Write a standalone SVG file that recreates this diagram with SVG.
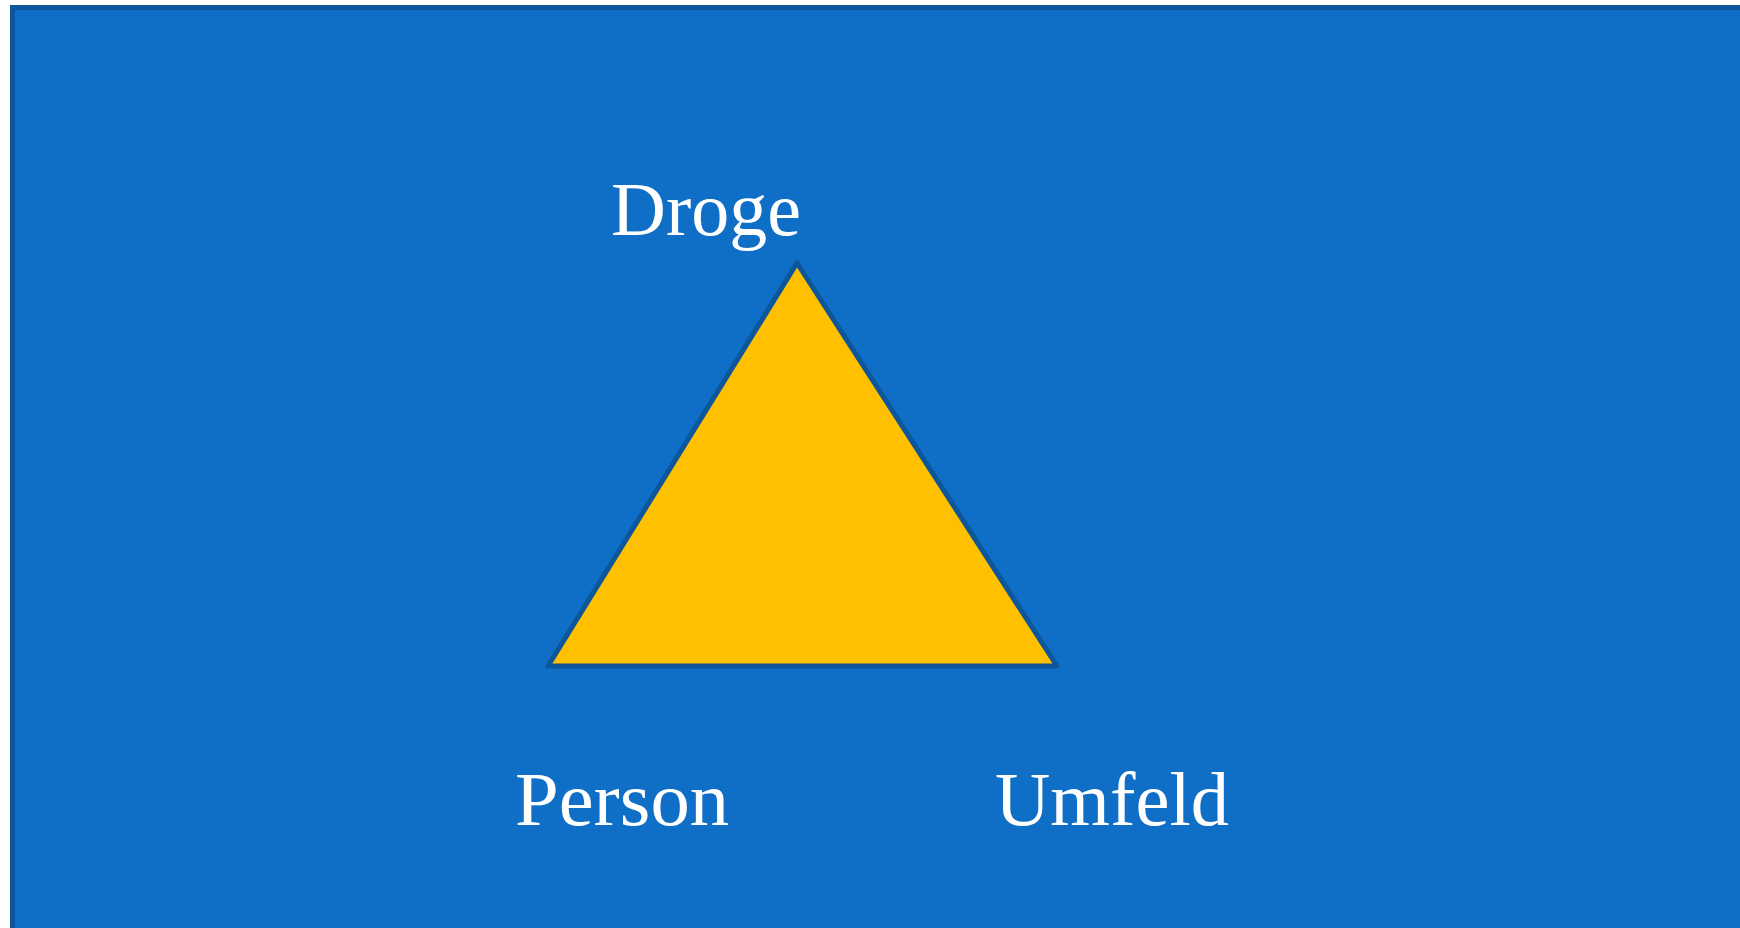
<svg xmlns="http://www.w3.org/2000/svg" width="1740" height="928" viewBox="0 0 1740 928">
<style>
.lbl{font-family:"Liberation Serif","Times New Roman",serif;font-size:76px;fill:#FFFFFF}
</style>
<rect x="12.5" y="7.5" width="1730" height="925" fill="#0F6FC6" stroke="#0C5699" stroke-width="5"/>
<g id="triangle">
<polygon points="797,263 548,666 1057,666" fill="#FFC000" stroke="#0C5699" stroke-width="5" stroke-linejoin="round"/>
</g>
<g id="droge"><text class="lbl" x="611" y="235" textLength="190" lengthAdjust="spacingAndGlyphs">Droge</text></g>
<g id="person"><text class="lbl" x="515" y="825" textLength="214" lengthAdjust="spacingAndGlyphs">Person</text></g>
<g id="umfeld"><text class="lbl" x="995" y="825" textLength="234" lengthAdjust="spacingAndGlyphs">Umfeld</text></g>
<g id="connectors"></g>
</svg>
